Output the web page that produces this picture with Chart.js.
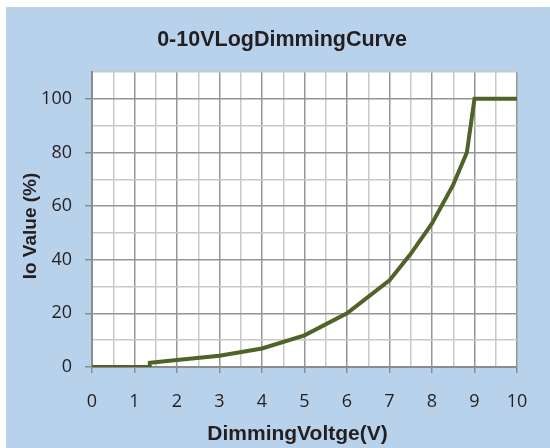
<!DOCTYPE html>
<html>
<head>
<meta charset="utf-8">
<script src="https://cdn.jsdelivr.net/npm/chart.js@4.4.0/dist/chart.umd.min.js"></script>
<style>
html, body { margin: 0; padding: 0; background: #fff; }
canvas { display: block; }
</style>
</head>
<body>
<canvas id="chart" width="550" height="448"></canvas>
<script>
// Daten
const voltage = [0, 1.36, 1.36, 2, 3, 4, 5, 6, 7, 7.5, 8, 8.5, 8.82, 9, 10];
const ioValue = [0, 0, 1.6, 2.6, 4.2, 6.9, 11.8, 20, 32.3, 42.2, 53.5, 68, 80, 100, 100];
const xTickLabels = [0, 1, 2, 3, 4, 5, 6, 7, 8, 9, 10];
const yTickLabels = [0, 20, 40, 60, 80, 100];

const chartTitle = '0-10VLogDimmingCurve';
const xTitle = 'DimmingVoltge(V)';
const yTitle = 'Io Value (%)';

const textColor = '#231f20';
const majorGrid = '#959595';
const minorGrid = '#c8c8c8';

// Hintergrund: hellblaue Fläche mit weißem Rand oben/links
const backgroundPlugin = {
    id: 'panel',
    beforeDraw(chart) {
        const ctx = chart.ctx;
        ctx.save();
        ctx.fillStyle = '#ffffff';
        ctx.fillRect(0, 0, chart.width, chart.height);
        ctx.fillStyle = '#b9d2ec';
        ctx.fillRect(6, 7, chart.width - 6, chart.height - 7);
        const a = chart.chartArea;
        ctx.fillStyle = '#ffffff';
        ctx.fillRect(a.left, a.top, a.right - a.left, a.bottom - a.top);
        ctx.restore();
    }
};

// Titel wie im Original über die ganze Fläche zentriert
const titlePlugin = {
    id: 'titles',
    afterDraw(chart) {
        const ctx = chart.ctx;
        ctx.save();
        ctx.fillStyle = textColor;
        ctx.textAlign = 'center';
        ctx.textBaseline = 'middle';
        ctx.font = 'bold 21.5px "Liberation Sans", Arial, sans-serif';
        ctx.fillText(chartTitle, 282, 40);
        ctx.font = 'bold 21px "Liberation Sans", Arial, sans-serif';
        ctx.fillText(xTitle, 297.5, 434);
        ctx.translate(31, 226);
        ctx.rotate(-Math.PI / 2);
        ctx.font = 'bold 19px "Liberation Sans", Arial, sans-serif';
        ctx.fillText(yTitle, 0, 0);
        ctx.restore();
    }
};

const ctx = document.getElementById('chart').getContext('2d');
new Chart(ctx, {
    type: 'line',
    data: {
        datasets: [{
            data: voltage.map((v, i) => ({ x: v, y: ioValue[i] })),
            borderColor: '#4f6228',
            borderWidth: 4,
            pointRadius: 0,
            tension: 0,
            fill: false,
            clip: 0
        }]
    },
    options: {
        responsive: false,
        animation: false,
        layout: { padding: { top: 72, right: 33, left: 0, bottom: 0 } },
        plugins: {
            legend: { display: false },
            title: { display: false },
            tooltip: { enabled: false }
        },
        scales: {
            x: {
                type: 'linear',
                min: 0,
                max: 10,
                afterFit: s => { s.height = 81; },
                ticks: {
                    stepSize: 0.5,
                    autoSkip: false,
                    maxRotation: 0,
                    padding: 18,
                    color: textColor,
                    font: { family: '"Open Sans"', size: 18 },
                    callback: v => xTickLabels.includes(v) ? v : ''
                },
                grid: {
                    lineWidth: 1.5,
                    tickLength: 6,
                    color: c => (c.tick && Number.isInteger(c.tick.value)) ? majorGrid : minorGrid,
                    tickColor: c => (c.tick && Number.isInteger(c.tick.value)) ? '#8c8c8c' : 'rgba(0,0,0,0)'
                },
                border: { color: '#8c8c8c', width: 2 }
            },
            y: {
                min: 0,
                max: 110,
                afterFit: s => { s.width = 92; },
                ticks: {
                    stepSize: 10,
                    autoSkip: false,
                    padding: 13,
                    color: textColor,
                    font: { family: '"Open Sans"', size: 18 },
                    callback: v => yTickLabels.includes(v) ? v : ''
                },
                grid: {
                    lineWidth: 1.5,
                    tickLength: 7,
                    color: c => (c.tick && c.tick.value % 20 === 0) ? majorGrid : minorGrid,
                    tickColor: c => (c.tick && c.tick.value % 20 === 0) ? '#8c8c8c' : 'rgba(0,0,0,0)'
                },
                border: { color: '#8c8c8c', width: 2 }
            }
        }
    },
    plugins: [backgroundPlugin, titlePlugin]
});
</script>
</body>
</html>
